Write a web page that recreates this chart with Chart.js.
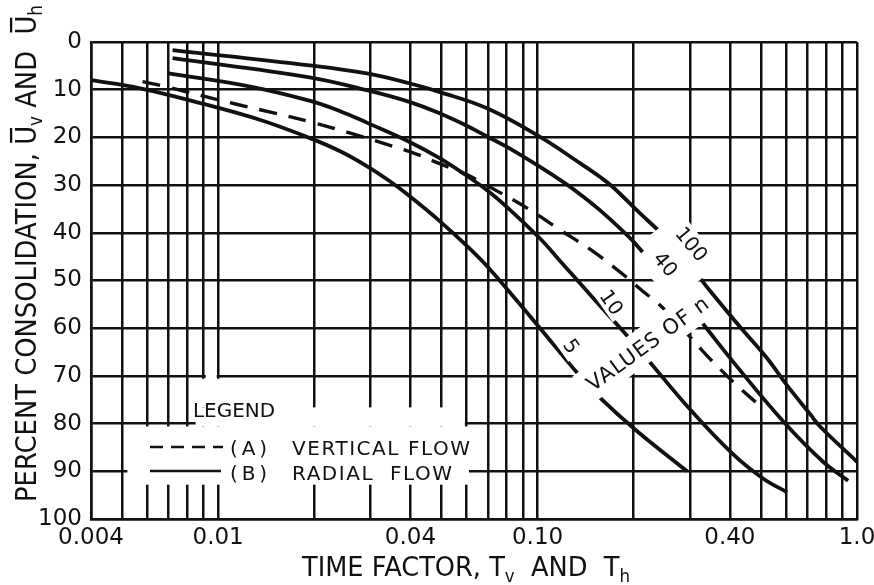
<!DOCTYPE html>
<html><head><meta charset="utf-8">
<script src="https://cdn.jsdelivr.net/npm/chart.js@4.4.1/dist/chart.umd.min.js"></script>
<style>html,body{margin:0;padding:0;background:#fff}#c{display:block}</style>
</head><body>
<canvas id="c" width="874" height="585"></canvas>
<script>
// ---- axis ticks ----
const xTickValues = [0.004,0.005,0.006,0.007,0.008,0.009,0.01,0.02,0.03,0.04,0.05,0.06,0.07,0.08,0.09,0.1,0.2,0.3,0.4,0.5,0.6,0.7,0.8,0.9,1.0];
const xTickText   = ['0.004','','','','','','0.01','','','0.04','','','','','','0.10','','','0.40','','','','','','1.0'];
const yTickValues = [0,10,20,30,40,50,60,70,80,90,100];

// ---- radial flow, n = 5 ----
const T_n5 = [0.004,0.0057,0.0088,0.0135,0.0193,0.0241,0.0292,0.0345,0.0399,0.0495,0.0602,0.0695,0.0802,0.1018,0.134,0.157,0.205,0.294];
const U_n5 = [8.0,9.7,12.8,16.3,20.1,22.9,26.0,29.2,32.4,37.6,42.8,47.0,51.8,60.0,69.6,74.6,81.6,90.0];
// ---- radial flow, n = 10 ----
const T_n10 = [0.0070,0.0125,0.0193,0.0241,0.0292,0.0399,0.0495,0.0602,0.0695,0.0802,0.1018,0.1176,0.149,0.185,0.209,0.30,0.409,0.508,0.604];
const U_n10 = [6.6,9.3,12.3,14.5,16.9,21.0,24.4,28.1,31.1,34.6,41.2,45.9,53.6,60.6,64.6,77.0,86.4,91.5,94.4];
// ---- radial flow, n = 40 ----
const T_n40 = [0.0072,0.0193,0.0292,0.0399,0.0495,0.0602,0.0695,0.0802,0.1018,0.123,0.1358,0.157,0.186,0.205,0.316,0.409,0.587,0.783,0.938];
const U_n40 = [3.4,7.4,10.1,12.6,15.0,17.6,19.8,22.0,26.2,29.8,31.9,35.3,39.8,42.7,57.6,67.0,79.5,88.0,92.0];
// ---- radial flow, n = 100 ----
const T_n100 = [0.0072,0.0193,0.0292,0.0399,0.0495,0.0695,0.1018,0.1358,0.157,0.172,0.209,0.247,0.316,0.347,0.43,0.523,0.604,0.713,0.766,1.0];
const U_n100 = [1.7,4.9,6.6,8.7,10.5,13.9,19.9,25.4,28.3,30.4,35.9,40.5,48.8,52.2,59.7,66.3,72.0,78.0,80.6,88.0];
// ---- vertical flow ----
const T_v = [0.0058,0.0068,0.0092,0.0115,0.0148,0.0193,0.0253,0.0328,0.0422,0.0485,0.06,0.0736,0.0947,0.1176,0.147,0.1857,0.214,0.24,0.28,0.33,0.377,0.435,0.5];
const U_v = [8.3,9.3,11.5,13.1,14.8,16.7,18.9,21.2,23.6,25.3,27.8,31.0,35.2,39.4,43.6,48.8,52.3,55.0,59.6,64.9,68.9,72.9,76.4];

// ---- curve labels (data anchor, rotation in degrees) ----
const curveLabels = [
  {text:'100', t:0.3045, u:42.3, angle:50, size:20},
  {text:'40',  t:0.2524, u:46.5, angle:50, size:20},
  {text:'10',  t:0.171,  u:54.5, angle:55, size:20},
  {text:'5',   t:0.128,  u:63.7, angle:55, size:20},
  {text:'VALUES OF n', t:0.2202, u:63.14, angle:-36, size:21, width:145}
];
// white breaks around labels (center in data units, box in px)
const labelMasks = [
  {t:0.290,  u:43.5, angle:52,   len:66,  wid:40},
  {t:0.2662, u:50.1, angle:49.5, len:84,  wid:30},
  {t:0.171,  u:54.5, angle:55,   len:34,  wid:22},
  {t:0.128,  u:63.7, angle:55,   len:22,  wid:24},
  {t:0.2176, u:63.4, angle:-36,  len:156, wid:34}
];
// white area of the legend (data units)
const legendMasks = [
  {t0:0.0052, t1:0.061,  u0:80.6, u1:92.8},
  {t0:0.0085, t1:0.0592, u0:76.6, u1:80.6},
  {t0:0.0085, t1:0.0192, u0:70.6, u1:76.6},
  {t0:0.00915,t1:0.0099, u0:69.3, u1:70.7}
];

const INK = '#111';
const FONT = '"DejaVu Sans"';
Chart.defaults.font.family = 'DejaVu Sans';
Chart.defaults.color = INK;

function pts(T,U){ return T.map((t,i)=>({x:t,y:U[i]})); }
function line(T,U,extra){
  return Object.assign({data:pts(T,U), borderColor:INK, borderWidth:3.8, pointRadius:0,
    tension:0.4, fill:false}, extra||{});
}

function drawFit(ctx, text, left, cy, w, size){
  ctx.save();
  ctx.font = size+'px '+FONT;
  ctx.letterSpacing = '0px';
  const m = ctx.measureText(text).width;
  let sx = 1, ls = 0;
  if (w && m < w) ls = (w-m)/Math.max(1,text.length-1);
  else if (w) sx = w/m;
  ctx.translate(left, cy + 0.729*size/2);
  ctx.scale(sx,1);
  ctx.letterSpacing = ls+'px';
  ctx.textAlign='left'; ctx.textBaseline='alphabetic';
  ctx.fillText(text,0,0);
  ctx.restore();
}
function textWidth(ctx,text,size){ ctx.font=size+'px '+FONT; return ctx.measureText(text).width; }

function drawRich(ctx, segs, width, size){
  let total = 0;
  segs.forEach(s=>{ s.w = textWidth(ctx, s.t, s.sub?size*0.65:size); total += s.w; });
  const sx = width/total;
  ctx.save();
  ctx.scale(sx,1);
  let x = -total/2;
  ctx.textAlign='left'; ctx.textBaseline='alphabetic';
  segs.forEach(s=>{
    const sz = s.sub?size*0.65:size;
    ctx.font = sz+'px '+FONT;
    ctx.fillText(s.t, x, s.sub? size*0.22 : 0);
    if (s.bar){
      ctx.fillRect(x+size*0.08, -0.729*size-size*0.17, s.w-size*0.16, size*0.08);
    }
    x += s.w;
  });
  ctx.restore();
}

const overlay = {
  id:'overlay',
  afterDraw(chart){
    const ctx = chart.ctx, xs = chart.scales.x, ys = chart.scales.y;
    const X = v=>xs.getPixelForValue(v), Y = v=>ys.getPixelForValue(v);
    ctx.save();
    ctx.fillStyle = '#fff';
    legendMasks.forEach(m=>{
      const x0=X(m.t0), x1=X(m.t1), y0=Y(m.u0), y1=Y(m.u1);
      ctx.fillRect(x0,y0,x1-x0,y1-y0);
    });
    labelMasks.forEach(m=>{
      ctx.save(); ctx.translate(X(m.t),Y(m.u)); ctx.rotate(m.angle*Math.PI/180);
      ctx.fillRect(-m.len/2,-m.wid/2,m.len,m.wid); ctx.restore();
    });
    ctx.fillStyle = INK;
    curveLabels.forEach(l=>{
      ctx.save(); ctx.translate(X(l.t),Y(l.u)); ctx.rotate(l.angle*Math.PI/180);
      const w = l.width || textWidth(ctx,l.text,l.size);
      drawFit(ctx, l.text, -w/2, 0, w, l.size);
      ctx.restore();
    });
    // legend
    drawFit(ctx,'LEGEND',193,410,82,20);
    drawFit(ctx,'(A)',230,448,37,20);
    drawFit(ctx,'VERTICAL FLOW',292,448,178,20);
    drawFit(ctx,'(B)',230,473,37,20);
    drawFit(ctx,'RADIAL  FLOW',292,473,160,20);
    ctx.strokeStyle = INK; ctx.lineWidth = 2.6;
    ctx.beginPath(); ctx.setLineDash([13,8]); ctx.moveTo(150,447); ctx.lineTo(223,447); ctx.stroke();
    ctx.beginPath(); ctx.setLineDash([]); ctx.moveTo(150,471); ctx.lineTo(221,471); ctx.stroke();
    // x title
    ctx.save(); ctx.translate(466,576);
    drawRich(ctx,[{t:'TIME FACTOR, T'},{t:'v',sub:true},{t:'  AND  T'},{t:'h',sub:true}],328,27);
    ctx.restore();
    // y title
    ctx.save(); ctx.translate(36,253.5); ctx.rotate(-Math.PI/2);
    drawRich(ctx,[{t:'PERCENT CONSOLIDATION, '},{t:'U',bar:true},{t:'v',sub:true},{t:' AND  '},{t:'U',bar:true},{t:'h',sub:true}],497,29);
    ctx.restore();
    ctx.restore();
  }
};

new Chart(document.getElementById('c'), {
  type:'line',
  data:{ datasets:[
    line(T_n5,U_n5,{label:'n = 5'}),
    line(T_n10,U_n10,{label:'n = 10'}),
    line(T_n40,U_n40,{label:'n = 40'}),
    line(T_n100,U_n100,{label:'n = 100'}),
    line(T_v,U_v,{label:'(A) Vertical flow', borderDash:[18,12], borderWidth:3.4})
  ]},
  options:{
    responsive:false, animation:false, devicePixelRatio:1,
    layout:{padding:{top:42,right:17,left:0,bottom:0}},
    plugins:{legend:{display:false}, tooltip:{enabled:false}},
    scales:{
      x:{ type:'logarithmic', min:0.004, max:1.0,
        afterBuildTicks:s=>{ s.ticks = xTickValues.map(v=>({value:v})); },
        afterFit:s=>{ s.height = 66; s.paddingLeft = 0; s.paddingRight = 0; },
        ticks:{ autoSkip:false, maxRotation:0, minRotation:0, padding:5, color:INK,
          font:{size:23, family:'DejaVu Sans'},
          callback:(v)=>{ const i = xTickValues.indexOf(v); return i>=0 ? xTickText[i] : ''; } },
        grid:{ color:INK, lineWidth:2.5, drawTicks:false },
        border:{ color:INK, width:2.5 }
      },
      y:{ type:'linear', reverse:true, min:0, max:100,
        afterBuildTicks:s=>{ s.ticks = yTickValues.map(v=>({value:v})); },
        afterFit:s=>{ s.width = 91; s.paddingTop = 0; s.paddingBottom = 0; },
        ticks:{ padding:9, color:INK, font:{size:23, family:'DejaVu Sans'}, callback:v=>String(v) },
        grid:{ color:INK, lineWidth:2.5, drawTicks:false },
        border:{ color:INK, width:2.5 }
      }
    }
  },
  plugins:[overlay]
});
</script>
</body></html>
